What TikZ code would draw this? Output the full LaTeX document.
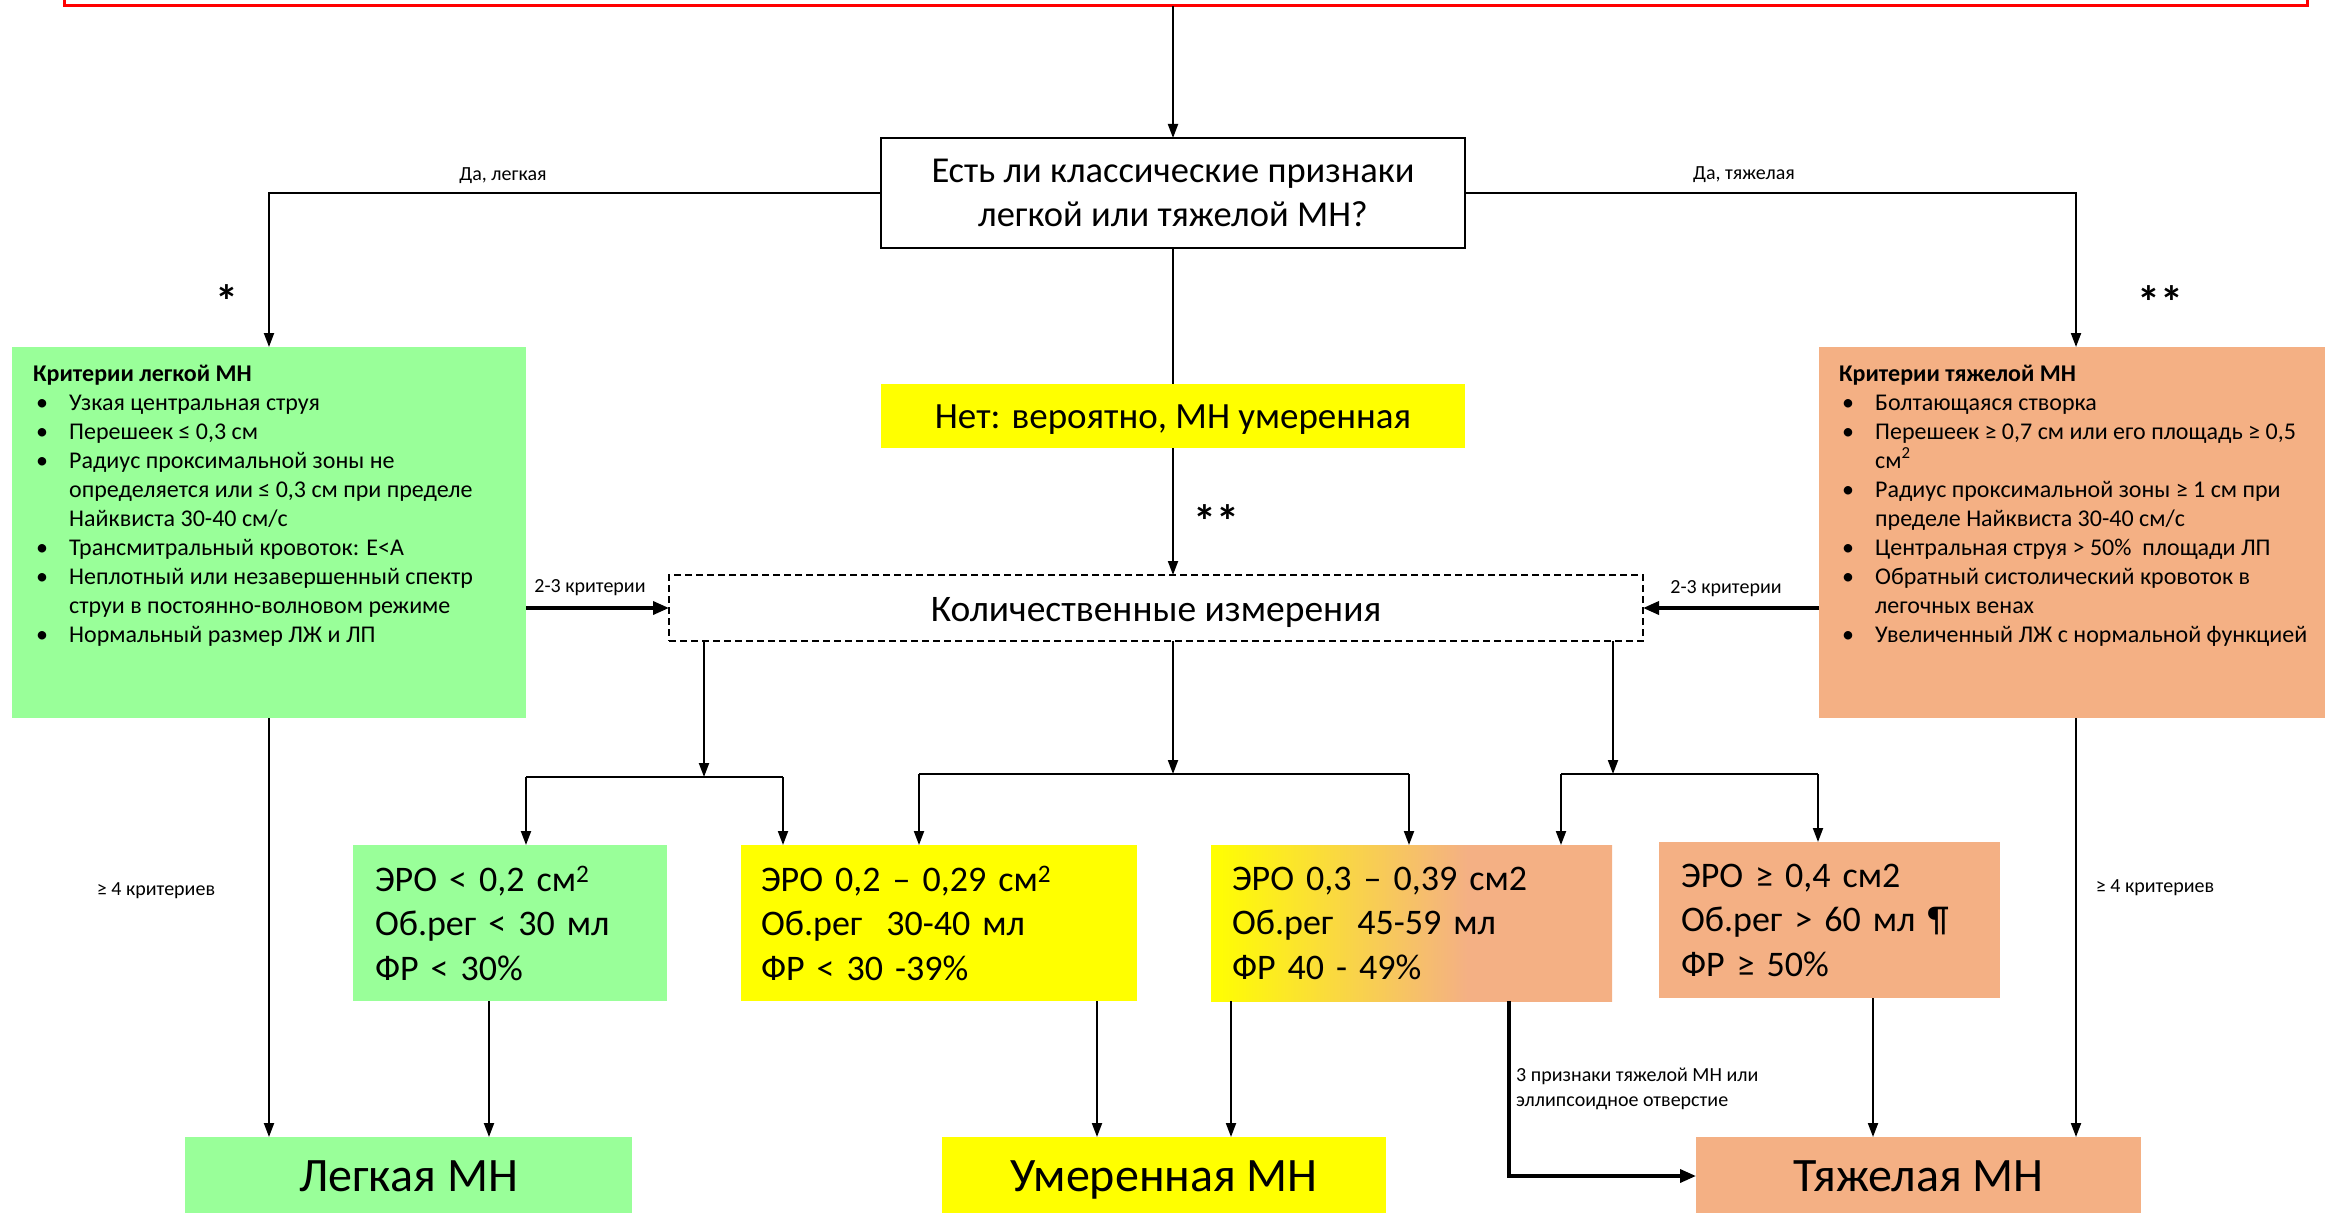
\documentclass[tikz,border=0pt]{standalone}
\usepackage{fontspec}
\setmainfont{Carlito}
\usetikzlibrary{arrows.meta}
\definecolor{mgreen}{RGB}{153,255,153}
\definecolor{myellow}{RGB}{255,255,0}
\definecolor{morange}{RGB}{244,176,132}
\pgfdeclarehorizontalshading{yoshade}{100bp}{color(0bp)=(myellow); color(25bp)=(myellow); color(57bp)=(morange); color(100bp)=(morange)}
\newcommand\fsz[2]{\fontsize{#1}{#2}\selectfont}
\newcommand\mybul{\hspace*{3pt}\makebox[33pt][l]{•}}
\newcommand\myind{\hspace*{36pt}}
\begin{document}
\begin{tikzpicture}[x=1pt,y=-1pt,
  box/.style={inner sep=0pt, outer sep=0pt},
  ln/.style={line width=2pt},
  arr/.style={line width=2pt,-{Triangle[length=14pt,width=10pt]}},
  tarr/.style={line width=3.5pt,-{Triangle[length=16pt,width=13pt]}},
  small/.style={font=\fsz{20}{25}, inner sep=0pt},
  midtxt/.style={font=\fsz{36}{44.5}, align=left},
  big/.style={font=\fsz{48}{52}, text height=44pt, text depth=13pt},
  star/.style={font=\fsz{46}{50}\bfseries, inner sep=0pt}]
\useasboundingbox (0,0) rectangle (2325,1212);

% top box (cut off)
\node[box, draw=red, line width=3pt, minimum width=2243pt, minimum height=46pt] (topbox) at (1185.5,-17) {};

% question
\node[box, draw, line width=2pt, minimum width=584pt, minimum height=110pt, align=center, font=\fsz{36.5}{44.5}] (q) at (1173,193)
  {Есть ли классические признаки\\легкой или тяжелой МН?};
\node[small] (yesmild) at (503,176) {Да, легкая};
\node[small] (yessev) at (1744,175) {Да, тяжелая};

\node[star] (st1) at (227,301) {*};
\node[star] (st2) at (2160,302) {**};
\node[star] (st3) at (1216,521) {**};

% criteria boxes
\node[box, fill=mgreen, minimum width=514pt, minimum height=371pt] (lcrit) at (269,532.5) {};
\node[anchor=base west, inner sep=0pt, align=left, font=\fsz{24}{29}] (ltext) at (33,642)
  {\textbf{Критерии легкой МН}\\
   \mybul Узкая центральная струя\\
   \mybul Перешеек ≤ 0,3 см\\
   \mybul Радиус проксимальной зоны не\\
   \myind определяется или ≤ 0,3 см при пределе\\
   \myind Найквиста 30-40 см/с\\
   \mybul Трансмитральный кровоток: E<A\\
   \mybul Неплотный или незавершенный спектр\\
   \myind струи в постоянно-волновом режиме\\
   \mybul Нормальный размер ЛЖ и ЛП};

\node[box, fill=morange, minimum width=514pt, minimum height=371pt] (hcrit) at (2076,532.5) {};
\node[anchor=base west, inner sep=0pt, align=left, font=\fsz{24}{29}] (htext) at (1839,642)
  {\textbf{Критерии тяжелой МН}\\
   \mybul Болтающаяся створка\\
   \mybul Перешеек ≥ 0,7 см или его площадь ≥ 0,5\\
   \myind см\textsuperscript{2}\\
   \mybul Радиус проксимальной зоны ≥ 1 см при\\
   \myind пределе Найквиста 30-40 см/с\\
   \mybul Центральная струя > 50\%\ \ площади ЛП\\
   \mybul Обратный систолический кровоток в\\
   \myind легочных венах\\
   \mybul Увеличенный ЛЖ с нормальной функцией};

% moderate probable
\node[box, fill=myellow, minimum width=584pt, minimum height=64pt, font=\fsz{37}{44}, text height=35pt, text depth=10pt] (net) at (1173,416)
  {Нет: вероятно, МН умеренная};

% quantitative
\node[box, draw, line width=2pt, dash pattern=on 7pt off 4pt, minimum width=974pt, minimum height=66pt, font=\fsz{37.5}{44}, text height=37pt, text depth=10pt] (quant) at (1156,608)
  {Количественные измерения};
\node[small] (l23l) at (590,588) {2-3 критерии};
\node[small] (l23r) at (1726,589) {2-3 критерии};

% measurement boxes
\node[box, fill=mgreen, minimum width=314pt, minimum height=156pt, midtxt, text width=270pt] (A) at (510,923)
  {ЭРО < 0,2 см\textsuperscript{2}\\Об.рег < 30 мл\\ФР < 30\%};
\node[box, fill=myellow, minimum width=396pt, minimum height=156pt, midtxt, text width=356pt] (B) at (939,923)
  {ЭРО 0,2 – 0,29 см\textsuperscript{2}\\Об.рег\ \ 30-40 мл\\ФР < 30 -39\%};
\node[box, shading=yoshade, minimum width=401pt, minimum height=156pt, midtxt, text width=359pt] (C) at (1411.5,923)
  {ЭРО 0,3 – 0,39 см2\\Об.рег\ \ 45-59 мл\\ФР 40 - 49\%};
\node[box, fill=morange, minimum width=341pt, minimum height=156pt, midtxt, text width=297pt] (D) at (1829.5,920)
  {ЭРО ≥ 0,4 см2\\Об.рег > 60 мл ¶\\ФР ≥ 50\%};

% outcome boxes
\node[box, fill=mgreen, minimum width=447pt, minimum height=78pt, big] (mild) at (408.5,1176) {Легкая МН};
\node[box, fill=myellow, minimum width=444pt, minimum height=78pt, big] (moder) at (1164,1176) {Умеренная МН};
\node[box, fill=morange, minimum width=445pt, minimum height=78pt, big] (sev) at (1918.5,1176) {Тяжелая МН};

\node[small] (ge4l) at (156,891) {≥ 4 критериев};
\node[small] (ge4r) at (2155,888) {≥ 4 критериев};
\node[small, anchor=west, align=left] (ell) at (1516,1089) {3 признаки тяжелой МН или\\эллипсоидное отверстие};

% connectors
\draw[arr] (topbox.south -| q.north) -- (q.north);
\draw[arr] (q.west) -| (lcrit.north);
\draw[arr] (q.east) -| (hcrit.north);
\draw[ln] (q.south) -- (net.north);
\draw[arr] (net.south) -- (net.south |- quant.north);
\draw[tarr] (lcrit.east |- quant.west) -- (quant.west);
\draw[tarr] (hcrit.west |- quant.east) -- (quant.east);

\coordinate (b1) at (704,777);
\coordinate (b2) at (1173,774);
\coordinate (b3) at (1613,774);
\coordinate (b1l) at (526,777);
\coordinate (b1r) at (783,777);
\coordinate (b2l) at (919,774);
\coordinate (b2r) at (1409,774);
\coordinate (b3l) at (1561,774);
\coordinate (b3r) at (1818,774);
\draw[arr] (quant.south -| b1) -- (b1);
\draw[arr] (quant.south -| b2) -- (b2);
\draw[arr] (quant.south -| b3) -- (b3);
\draw[ln] (b1l) -- (b1r);
\draw[ln] (b2l) -- (b2r);
\draw[ln] (b3l) -- (b3r);
\draw[arr] (b1l) -- (b1l |- A.north);
\draw[arr] (b1r) -- (b1r |- B.north);
\draw[arr] (b2l) -- (b2l |- B.north);
\draw[arr] (b2r) -- (b2r |- C.north);
\draw[arr] (b3l) -- (b3l |- C.north);
\draw[arr] (b3r) -- (b3r |- D.north);

\coordinate (xa) at (489,0);
\coordinate (xb) at (1097,0);
\coordinate (xc) at (1231,0);
\coordinate (xc2) at (1509,0);
\coordinate (xd) at (1873,0);
\draw[arr] (lcrit.south) -- (lcrit.south |- mild.north);
\draw[arr] (A.south -| xa) -- (mild.north -| xa);
\draw[arr] (B.south -| xb) -- (moder.north -| xb);
\draw[arr] (C.south -| xc) -- (moder.north -| xc);
\draw[tarr] (C.south -| xc2) |- (sev.west);
\draw[arr] (D.south -| xd) -- (sev.north -| xd);
\draw[arr] (hcrit.south) -- (hcrit.south |- sev.north);
\end{tikzpicture}
\end{document}
